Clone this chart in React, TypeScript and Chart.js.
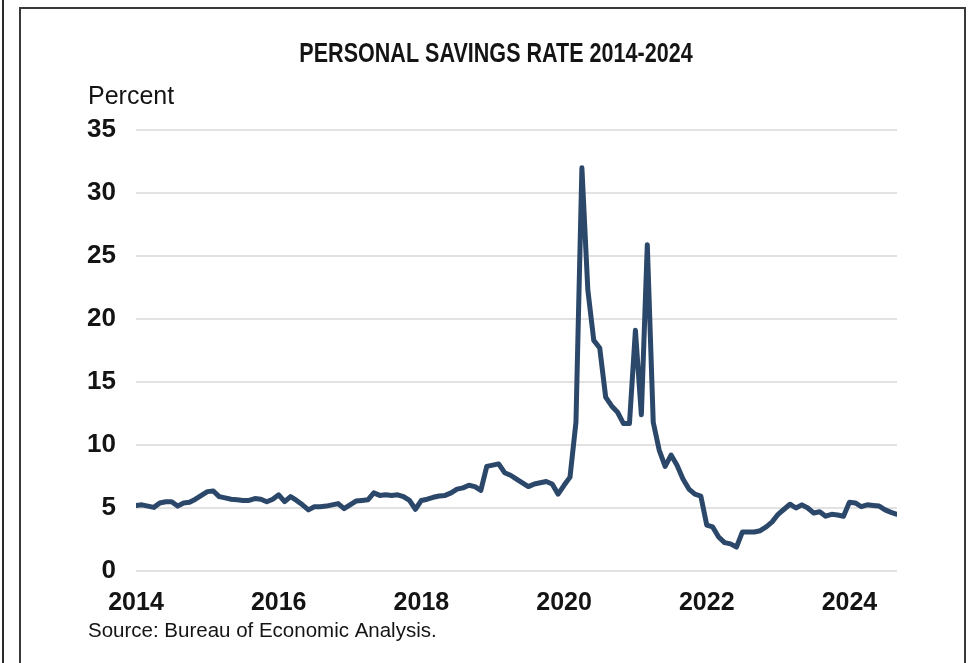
import React, { useEffect, useRef } from "react";
import { Chart, registerables } from "chart.js";

Chart.register(...registerables);

// Monthly personal saving rate (percent), one array per calendar year.
const savings2014 = [5.2, 5.25, 5.15, 5.05, 5.4, 5.5, 5.5, 5.15, 5.4, 5.45, 5.7, 6.0];
const savings2015 = [6.3, 6.35, 5.9, 5.8, 5.7, 5.65, 5.6, 5.6, 5.75, 5.7, 5.5, 5.7];
const savings2016 = [6.05, 5.5, 5.9, 5.6, 5.25, 4.85, 5.1, 5.1, 5.15, 5.25, 5.35, 4.95];
const savings2017 = [5.25, 5.55, 5.6, 5.65, 6.2, 6.0, 6.05, 6.0, 6.05, 5.9, 5.6, 4.9];
const savings2018 = [5.6, 5.7, 5.85, 5.95, 6.0, 6.2, 6.5, 6.6, 6.8, 6.7, 6.4, 8.3];
const savings2019 = [8.4, 8.5, 7.8, 7.6, 7.3, 7.0, 6.7, 6.9, 7.0, 7.1, 6.9, 6.1];
const savings2020 = [6.8, 7.45, 11.8, 32.0, 22.3, 18.3, 17.7, 13.8, 13.1, 12.6, 11.7, 11.7];
const savings2021 = [19.1, 12.4, 25.9, 11.8, 9.6, 8.3, 9.2, 8.4, 7.3, 6.5, 6.1, 5.95];
const savings2022 = [3.65, 3.5, 2.7, 2.25, 2.15, 1.9, 3.1, 3.1, 3.1, 3.2, 3.5, 3.9];
const savings2023 = [4.5, 4.9, 5.3, 5.0, 5.25, 5.0, 4.6, 4.7, 4.35, 4.5, 4.45, 4.35];
const savings2024 = [5.45, 5.4, 5.1, 5.25, 5.2, 5.15, 4.85, 4.65, 4.5];

const firstYear = 2014;
const yearTicks = [2014, 2016, 2018, 2020, 2022, 2024];
const percentTicks = [0, 5, 10, 15, 20, 25, 30, 35];

const TITLE = "PERSONAL SAVINGS RATE 2014-2024";
const UNIT_LABEL = "Percent";
const SOURCE = "Source: Bureau of Economic Analysis.";

const SANS = "'Liberation Sans', Arial, Helvetica, sans-serif";
const INK = "#141414";
const LINE = "#2b4769";

const monthly = [
  ...savings2014, ...savings2015, ...savings2016, ...savings2017,
  ...savings2018, ...savings2019, ...savings2020, ...savings2021,
  ...savings2022, ...savings2023, ...savings2024,
];

// Title, unit label and source note drawn on the chart canvas.
const captions = {
  id: "captions",
  afterDraw(chart: any) {
    const { ctx, chartArea } = chart;
    ctx.save();
    ctx.fillStyle = INK;
    ctx.textBaseline = "alphabetic";

    // condensed bold headline: horizontally squeezed bold sans
    ctx.save();
    ctx.translate(496, 62);
    ctx.scale(0.77, 1);
    ctx.textAlign = "center";
    ctx.font = `bold 28px ${SANS}`;
    ctx.fillText(TITLE, 0, 0);
    ctx.restore();

    ctx.textAlign = "left";
    ctx.font = `25px ${SANS}`;
    ctx.fillText(UNIT_LABEL, 88, 104);

    ctx.font = `20.5px ${SANS}`;
    ctx.fillText(SOURCE, 88, chartArea.bottom + 66);
    ctx.restore();
  },
};

function SavingsChart() {
  const canvasRef = useRef<HTMLCanvasElement | null>(null);

  useEffect(() => {
    const canvas = canvasRef.current;
    if (!canvas) return;

    const chart = new Chart(canvas, {
      type: "line",
      data: {
        datasets: [
          {
            label: "Personal saving rate",
            data: monthly.map((v, i) => ({ x: i, y: v })),
            borderColor: LINE,
            borderWidth: 5,
            pointRadius: 0,
            tension: 0,
            fill: false,
            borderJoinStyle: "round",
            borderCapStyle: "round",
          },
        ],
      },
      options: {
        responsive: false,
        animation: false,
        devicePixelRatio: 1,
        layout: { padding: { top: 130, left: 0, right: 74, bottom: 42 } },
        plugins: {
          legend: { display: false },
          title: { display: false },
          tooltip: { enabled: false },
        },
        scales: {
          x: {
            type: "linear",
            min: 0,
            max: monthly.length - 1,
            grid: { display: false, drawTicks: false },
            border: { display: false },
            afterBuildTicks: (scale: any) => {
              scale.ticks = yearTicks.map((y) => ({ value: (y - firstYear) * 12 }));
            },
            afterFit: (scale: any) => {
              scale.height = 50;
            },
            ticks: {
              autoSkip: false,
              maxRotation: 0,
              padding: 17,
              color: INK,
              font: { family: SANS, size: 25, weight: "bold" },
              callback: (v: any) => String(firstYear + Math.round(Number(v) / 12)),
            },
          },
          y: {
            min: 0,
            max: 35,
            grid: { color: "#e2e2e2", lineWidth: 2, drawTicks: false },
            border: { display: false },
            afterBuildTicks: (scale: any) => {
              scale.ticks = percentTicks.map((v) => ({ value: v }));
            },
            afterFit: (scale: any) => {
              scale.width = 136;
            },
            ticks: {
              padding: 20,
              color: INK,
              font: { family: SANS, size: 26, weight: "bold" },
            },
          },
        },
      },
      plugins: [captions],
    });

    return () => chart.destroy();
  }, []);

  return <canvas ref={canvasRef} width={971} height={663} style={{ display: "block" }} />;
}

export default function App() {
  return (
    <div
      style={{
        position: "fixed",
        left: 0,
        top: 0,
        width: 971,
        height: 663,
        background: "#ffffff",
        overflow: "hidden",
      }}
    >
      <div style={{ position: "absolute", left: 2, top: 0, width: 2, height: 663, background: "#2a2a2a" }} />
      <div
        style={{
          position: "absolute",
          left: 19,
          top: 7,
          width: 947,
          height: 700,
          borderTop: "2px solid #3a3a3a",
          borderLeft: "2px solid #3a3a3a",
          borderRight: "2px solid #3a3a3a",
          boxSizing: "border-box",
        }}
      />
      <div style={{ position: "absolute", left: 0, top: 0 }}>
        <SavingsChart />
      </div>
    </div>
  );
}
